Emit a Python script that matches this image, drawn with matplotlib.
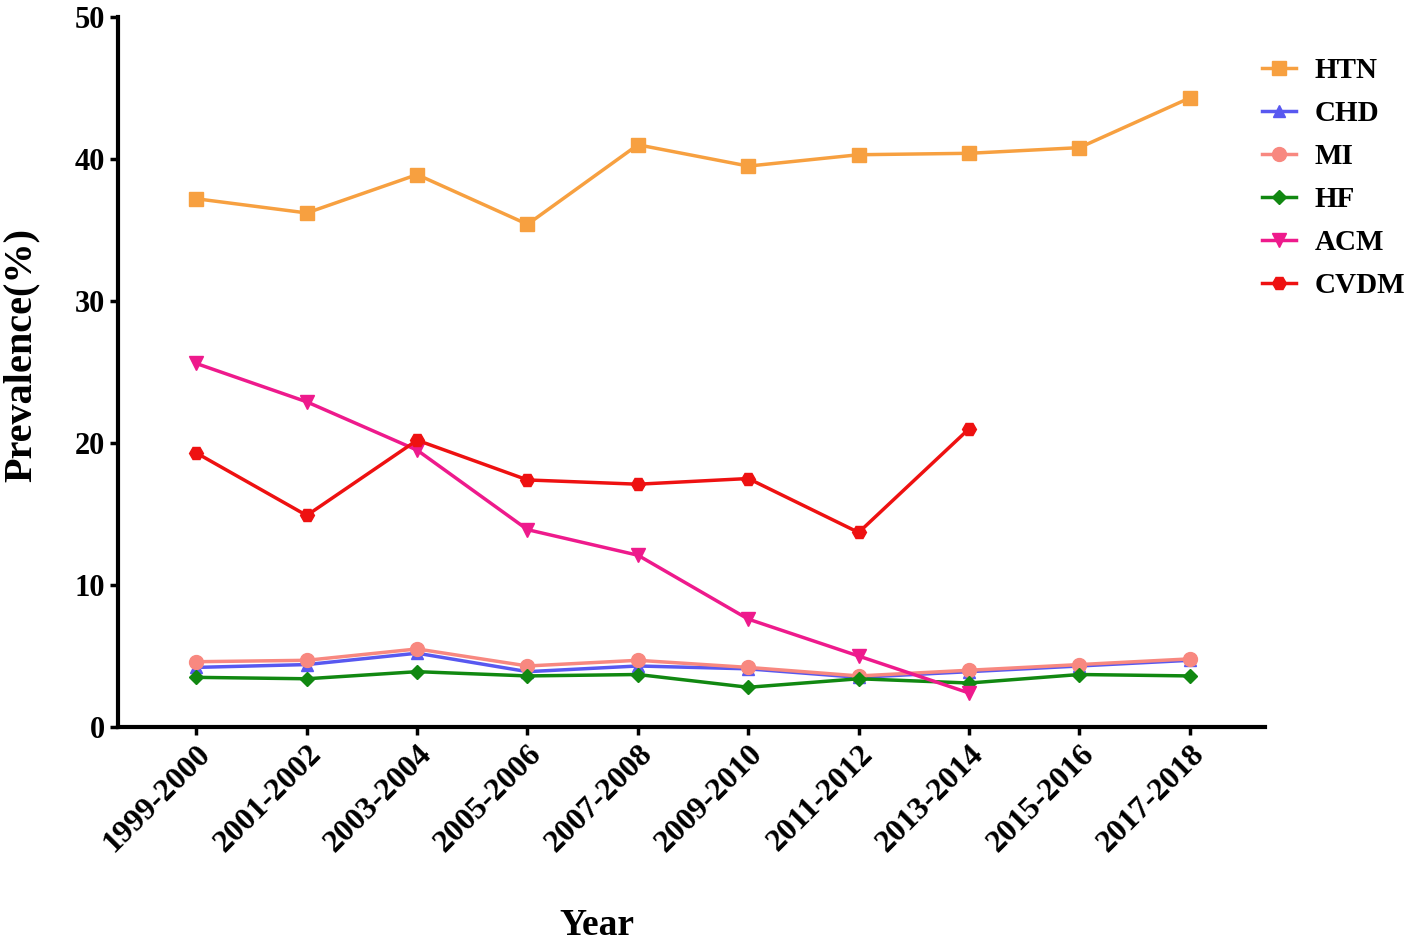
import numpy as np
import matplotlib.pyplot as plt

years = ["1999-2000", "2001-2002", "2003-2004", "2005-2006", "2007-2008",
         "2009-2010", "2011-2012", "2013-2014", "2015-2016", "2017-2018"]

htn = [37.2, 36.2, 38.9, 35.4, 41.0, 39.5, 40.3, 40.4, 40.8, 44.3]
chd = [4.2, 4.4, 5.2, 3.9, 4.3, 4.1, 3.5, 3.9, 4.3, 4.7]
mi = [4.6, 4.7, 5.5, 4.3, 4.7, 4.2, 3.6, 4.0, 4.4, 4.8]
hf = [3.5, 3.4, 3.9, 3.6, 3.7, 2.8, 3.4, 3.1, 3.7, 3.6]
acm = [25.6, 22.9, 19.5, 13.9, 12.1, 7.6, 5.0, 2.4]
cvdm = [19.3, 14.9, 20.2, 17.4, 17.1, 17.5, 13.7, 21.0]

plt.rcParams["font.family"] = ["Liberation Serif", "DejaVu Serif"]
plt.rcParams["font.weight"] = "bold"

fig = plt.figure(figsize=(14.18, 9.43), dpi=100)
ax = fig.add_axes([0.0832, 0.229, 0.8088, 0.753])

x = np.arange(len(years))
series = [
    ("HTN", htn, "#f7a040", "s", 10),
    ("CHD", chd, "#5858f0", "^", 9),
    ("MI", mi, "#f88880", "o", 10),
    ("HF", hf, "#118811", "D", 7),
    ("ACM", acm, "#ee1a8c", "v", 10),
    ("CVDM", cvdm, "#ee1111", "H", 10),
]
for name, vals, col, mk, ms in series:
    ax.plot(x[:len(vals)], vals, color=col, marker=mk, markersize=ms,
            linewidth=2.5, label=name)

ax.set_xlim(-0.71, 9.68)
ax.set_ylim(0, 50)
ax.set_yticks([0, 10, 20, 30, 40, 50])
ax.set_xticks(x)
ax.set_xticklabels(years, rotation=45, ha="right", rotation_mode="anchor")

for s in ["top", "right"]:
    ax.spines[s].set_visible(False)
for s in ["left", "bottom"]:
    ax.spines[s].set_linewidth(3)
ax.tick_params(axis="both", width=2.5, length=6, pad=3)
ax.tick_params(axis="y", labelsize=22)
ax.tick_params(axis="x", labelsize=23)
for lab in ax.get_xticklabels() + ax.get_yticklabels():
    lab.set_fontweight("bold")

ax.set_ylabel("Prevalence(%)", fontsize=29, fontweight="bold")
ax.yaxis.set_label_coords(-0.068, 0.524)
ax.set_xlabel("Year", fontsize=27, fontweight="bold")
ax.xaxis.set_label_coords(0.418, -0.255)

ax.legend(loc="upper left", bbox_to_anchor=(1262 / 1418, 1 - 57 / 943),
          bbox_transform=fig.transFigure, frameon=False,
          handlelength=1.15, labelspacing=0.55, handletextpad=0.65,
          borderpad=0, borderaxespad=0,
          prop={"weight": "bold", "size": 21})

fig.savefig("out.png", dpi=100)
